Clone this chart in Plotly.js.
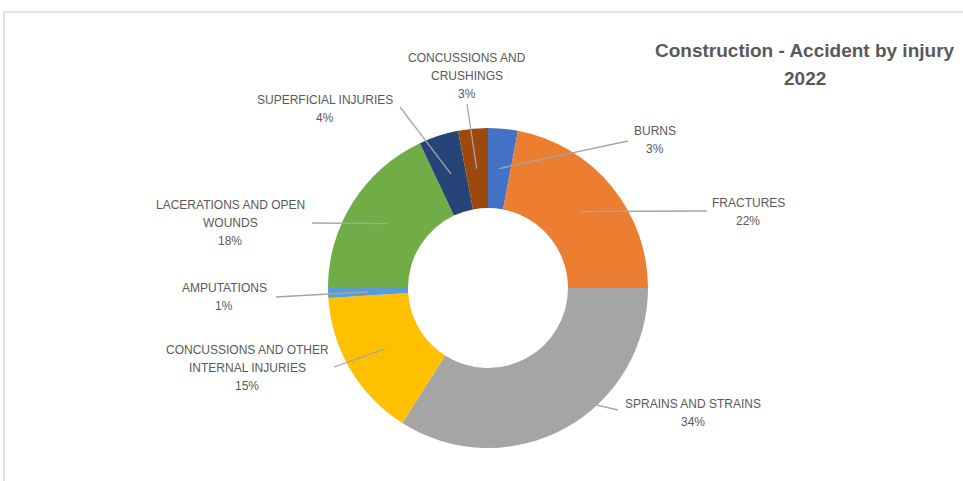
<!DOCTYPE html>
<html>
<head>
<meta charset="utf-8">
<script src="https://cdn.plot.ly/plotly-3.0.1.min.js"></script>
<style>html,body{margin:0;padding:0;background:#fff;}#chart{width:963px;height:481px;}</style>
</head>
<body>
<div id="chart"></div>
<script>
// ---- data ----
const categories = ["BURNS","FRACTURES","SPRAINS AND STRAINS","CONCUSSIONS AND OTHER INTERNAL INJURIES","AMPUTATIONS","LACERATIONS AND OPEN WOUNDS","SUPERFICIAL INJURIES","CONCUSSIONS AND CRUSHINGS"];
const labelLines = [["BURNS"],["FRACTURES"],["SPRAINS AND STRAINS"],["CONCUSSIONS AND OTHER","INTERNAL INJURIES"],["AMPUTATIONS"],["LACERATIONS AND OPEN","WOUNDS"],["SUPERFICIAL INJURIES"],["CONCUSSIONS AND","CRUSHINGS"]];
const shares = [3, 22, 34, 15, 1, 18, 4, 3];
const colors = ["#4472C4","#ED7D31","#A5A5A5","#FFC000","#5B9BD5","#70AD47","#264478","#9E480E"];
const titleText = "Construction - Accident by injury<br>2022";

// ---- layout constants ----
const W = 963, H = 481;
const cx = 488, cy = 288, R = 160, HOLE = 0.5;
// label block centres (top line y) and leader-line end points, in pixels
const labelPos = [[655,131],[748,203],[693,404],[247,350],[224,288],[230,205],[325,100],[467,58]];
const lineEnd = [[628,141],[707,211],[618,410],[334,367],[276,297],[312,223],[400,107],[467,104]];
const LINE_H = 18;

const px = x => x / W, py = y => 1 - y / H;
const total = shares.reduce((a,b)=>a+b,0);

const annotations = [];
const shapes = [];
let cum = 0;
shares.forEach((v,i) => {
  const mid = (cum + v/2) / total * 2 * Math.PI; cum += v;
  const rm = R * (1 + HOLE) / 2;
  const sx = cx + rm * Math.sin(mid), sy = cy - rm * Math.cos(mid);
  shapes.push({type:'line', xref:'paper', yref:'paper', x0:px(sx), y0:py(sy), x1:px(lineEnd[i][0]), y1:py(lineEnd[i][1]), line:{color:'#A6A6A6', width:1.3}, layer:'above'});
  const lines = labelLines[i].concat([Math.round(v/total*100) + '%']);
  lines.forEach((t,k) => {
    annotations.push({xref:'paper', yref:'paper', x:px(labelPos[i][0]), y:py(labelPos[i][1] + k*LINE_H), text:t, showarrow:false, xanchor:'center', yanchor:'middle', font:{family:'Liberation Sans, Arial, sans-serif', size:12, color:'#595959'}});
  });
});
// title
titleText.split('<br>').forEach((t,k) => {
  annotations.push({xref:'paper', yref:'paper', x:px(805), y:py(50 + k*28), text:'<b>'+t+'</b>', showarrow:false, xanchor:'center', yanchor:'middle', font:{family:'Liberation Sans, Arial, sans-serif', size:19, color:'#595959'}});
});
// frame
shapes.push({type:'line', xref:'paper', yref:'paper', x0:px(4), y0:py(12), x1:1, y1:py(12), line:{color:'#D9D9D9', width:1.5}});
shapes.push({type:'line', xref:'paper', yref:'paper', x0:px(4), y0:py(12), x1:px(4), y1:0, line:{color:'#D9D9D9', width:1.5}});

const trace = {
  type:'pie', labels:categories, values:shares, hole:HOLE, sort:false, direction:'clockwise', rotation:0,
  marker:{colors:colors, line:{width:0}}, textinfo:'none', hoverinfo:'label+percent', showlegend:false,
  domain:{x:[px(cx-R), px(cx+R)], y:[py(cy+R), py(cy-R)]}
};
Plotly.newPlot('chart', [trace], {
  width:W, height:H, margin:{l:0,r:0,t:0,b:0}, paper_bgcolor:'#fff', plot_bgcolor:'#fff',
  showlegend:false, annotations:annotations, shapes:shapes
}, {displayModeBar:false, staticPlot:true});
</script>
</body>
</html>
